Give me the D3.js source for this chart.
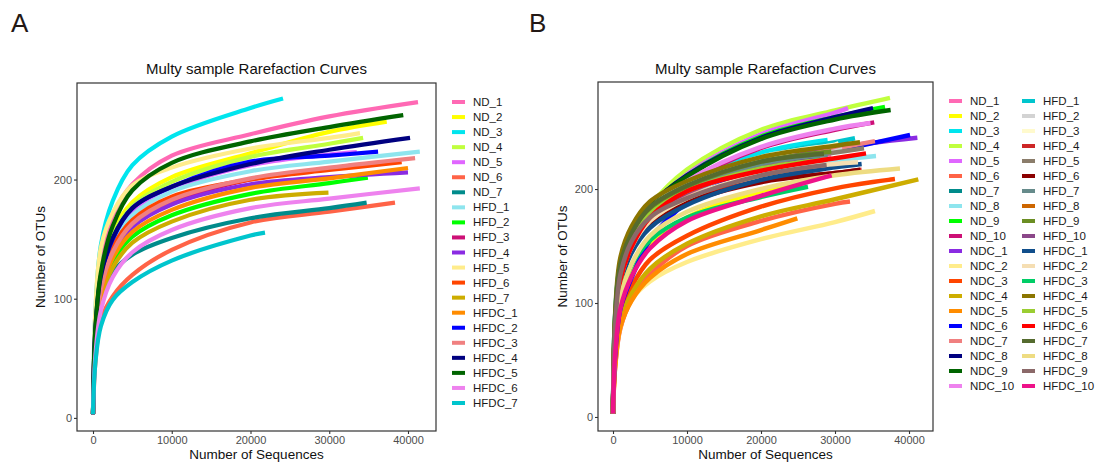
<!DOCTYPE html>
<html>
<head>
<meta charset="utf-8">
<script src="https://cdn.jsdelivr.net/npm/d3@7"></script>
<style>
  body { margin: 0; background: #fff; }
  svg text { font-family: "Liberation Sans", Arial, sans-serif; }
</style>
</head>
<body>
<svg id="chart" width="1096" height="463"></svg>
<script>

const depthGrid = [0, 300, 1000, 2500, 5000, 10000, 20000, 30000];

// ggplot-style palette, in legend order
const palette = [
  "#FF69B4", "#FFFF00", "#00E5EE", "#C0FF3E", "#E066FF", "#FF6347", "#008B8B",
  "#8EE5EE", "#00FF00", "#CD1076", "#8A2BE2", "#FFEC8B", "#FF4500", "#CDAD00",
  "#FF8C00", "#0000FF", "#F08080", "#000080", "#006400", "#EE82EE", "#00C5CD",
  "#D3D3D3", "#FFFACD", "#CD2626", "#8B7D6B", "#8B0000", "#668B8B", "#CD6600",
  "#6B8E23", "#8B4789", "#104E8B", "#F5DEB3", "#00CD66", "#8B7500", "#9ACD32",
  "#FF0000", "#556B2F", "#EEDC82", "#8B6969", "#EE1289"
];

// ---- panel A ----
const samplesA = ["ND_1", "ND_2", "ND_3", "ND_4", "ND_5", "ND_6", "ND_7",
  "HFD_1", "HFD_2", "HFD_3", "HFD_4", "HFD_5", "HFD_6", "HFD_7",
  "HFDC_1", "HFDC_2", "HFDC_3", "HFDC_4", "HFDC_5", "HFDC_6", "HFDC_7"];

const endDepthA = [41270, 37300, 24130, 34300, 33500, 38350, 34750,
  41500, 34900, 33000, 40000, 33900, 39200, 29900,
  40000, 36200, 40900, 40260, 39400, 41500, 21840];

// OTUs at each grid depth below the end depth, last value = OTUs at end depth
const otusA = [
  [3, 80, 133, 170, 196, 220, 238, 253, 265],
  [3, 72, 120, 156, 181, 202, 222, 240, 248.6],
  [3, 88, 145, 182, 212, 236, 260, 268],
  [3, 72, 118, 153, 178, 198, 219, 230, 235],
  [3, 70, 115, 148, 172, 192, 212, 221, 223],
  [3, 46, 82, 102, 120, 141, 164, 173, 180.6],
  [3, 55, 95, 122, 137, 151, 167.5, 176, 180.6],
  [3, 70, 114, 146, 170, 190, 207, 215, 223.4],
  [3, 62, 102, 131, 152, 170, 188, 197, 201.6],
  [3, 66, 108, 138, 162, 181, 200, 209, 212],
  [3, 66, 107, 137, 160, 179, 196, 202, 206],
  [3, 90, 143, 172, 195, 210, 226, 235, 239],
  [3, 68, 111, 143, 166, 185.6, 200, 208, 214.5],
  [3, 60, 99, 126, 147, 164.7, 183, 189],
  [3, 62, 104, 134, 156, 174.5, 193, 201, 209.7],
  [3, 72, 117, 150, 176, 194, 215, 220, 223.4],
  [3, 66, 108, 139, 163, 183, 201, 210, 218],
  [3, 74, 119, 151, 176, 194, 213, 225, 235],
  [3, 75, 122, 161, 191, 214, 232, 244, 254],
  [3, 52, 90, 118, 139, 157.7, 176, 184, 192.6],
  [3, 46, 77, 99, 114, 132, 153, 155.5]
];

// ---- panel B ----
const samplesB = ["ND_1", "ND_2", "ND_3", "ND_4", "ND_5", "ND_6", "ND_7", "ND_8", "ND_9", "ND_10",
  "NDC_1", "NDC_2", "NDC_3", "NDC_4", "NDC_5", "NDC_6", "NDC_7", "NDC_8", "NDC_9", "NDC_10",
  "HFD_1", "HFD_2", "HFD_3", "HFD_4", "HFD_5", "HFD_6", "HFD_7", "HFD_8", "HFD_9", "HFD_10",
  "HFDC_1", "HFDC_2", "HFDC_3", "HFDC_4", "HFDC_5", "HFDC_6", "HFDC_7", "HFDC_8", "HFDC_9", "HFDC_10"];

const endDepthB = [29500, 26000, 29000, 37430, 31760, 32030, 28000, 35540, 36760, 35300,
  41130, 35400, 38100, 41260, 24910, 40140, 35400, 35140, 37520, 34800,
  32700, 31000, 30500, 33600, 33920, 33400, 29000, 28000, 29500, 27000,
  33600, 33110, 26350, 33380, 29000, 34190, 28500, 38780, 28870, 29550];

const otusB = [
  [3, 70, 118, 153, 179, 200, 220, 229],
  [3, 62, 100, 125, 150, 175, 198, 207],
  [3, 90, 135, 160, 185, 208, 232, 243],
  [3, 85, 130, 158, 185, 217, 252, 269, 280],
  [3, 80, 125, 153, 182, 213, 248, 267, 271],
  [3, 44, 78, 103, 125, 150, 172, 187, 189],
  [3, 72, 120, 153, 179, 200, 218, 226],
  [3, 70, 118, 150, 175, 195, 214, 225, 229],
  [3, 80, 125, 156, 184, 212, 246, 263, 272],
  [3, 75, 122, 153, 179, 205, 236, 252, 258.5],
  [3, 72, 118, 150, 176, 198, 222, 236, 245],
  [3, 48, 80, 103, 119, 136, 156, 171, 180.7],
  [3, 50, 88, 114, 138, 159, 184.5, 200.6, 208.8],
  [3, 48, 84, 108, 130, 152, 176, 191, 208.5],
  [3, 45, 79, 102, 122, 143, 164, 174.3],
  [3, 55, 95, 122, 155, 188, 218, 233, 247.4],
  [3, 72, 120, 150, 174, 196, 220, 235, 242],
  [3, 80, 126, 158, 185, 212, 245, 263, 271],
  [3, 80, 126, 158, 185, 211, 244, 261, 269.3],
  [3, 78, 122, 154, 181, 207, 237, 253, 258],
  [3, 90, 135, 161, 183, 204, 228, 241, 244.5],
  [3, 82, 128, 157, 180, 200, 222, 233, 235],
  [3, 85, 130, 159, 183, 205, 228, 239, 240],
  [3, 78, 122, 149, 171, 190, 207, 214, 217],
  [3, 82, 128, 157, 180, 200, 222, 232, 235.7],
  [3, 75, 120, 147, 169, 188, 206, 214, 217],
  [3, 85, 130, 157, 180, 200, 222, 230],
  [3, 78, 122, 149, 172, 192, 212, 220],
  [3, 85, 130, 159, 182, 202, 224, 233],
  [3, 80, 125, 154, 177, 197, 218, 225],
  [3, 70, 115, 144, 166, 186, 208, 219, 222],
  [3, 75, 120, 149, 172, 192, 213, 222, 223.4],
  [3, 65, 106, 133, 155, 175, 193, 202],
  [3, 92, 140, 167, 189, 207, 228, 238, 241],
  [3, 80, 125, 154, 178, 198, 218, 226],
  [3, 75, 120, 149, 175, 198, 216, 227, 231.3],
  [3, 88, 134, 161, 184, 203, 224, 231],
  [3, 62, 104, 134, 159, 180, 200, 212, 218],
  [3, 80, 125, 154, 175, 192, 212, 221],
  [3, 55, 95, 123, 148, 172, 194, 212]
];

const xTicks = [0, 10000, 20000, 30000, 40000];
const yTicks = [0, 100, 200];

const svg = d3.select("#chart");

function build_series(samples, ends, otus) {
  return samples.map(function(name, i) {
    let depths = depthGrid.filter((d) => d < ends[i]);
    let pts = depths.map((d, j) => [d, otus[i][j]]);
    pts.push([ends[i], otus[i][otus[i].length - 1]]);
    return { name: name, color: palette[i], points: pts };
  });
}

function draw_panel(cfg) {
  let series = build_series(cfg.samples, cfg.ends, cfg.otus);

  let x = d3.scaleLinear().domain(cfg.xDomain).range([cfg.left, cfg.right]);
  let y = d3.scaleLinear().domain(cfg.yDomain).range([cfg.bottom, cfg.top]);

  let g = svg.append("g");

  // panel label
  svg.append("text")
    .attr("x", cfg.labelX).attr("y", 32)
    .attr("font-size", 26)
    .attr("fill", "#231815")
    .text(cfg.label);

  // title
  g.append("text")
    .attr("x", (cfg.left + cfg.right) / 2).attr("y", 74)
    .attr("text-anchor", "middle")
    .attr("font-size", 15)
    .attr("fill", "#111")
    .text("Multy sample Rarefaction Curves");

  let line = d3.line()
    .x((d) => x(d[0]))
    .y((d) => y(d[1]))
    .curve(d3.curveCatmullRom.alpha(0.5));

  g.append("g")
    .selectAll("path")
    .data(series)
    .enter().append("path")
      .attr("d", (d) => line(d.points))
      .attr("fill", "none")
      .attr("stroke", (d) => d.color)
      .attr("stroke-width", cfg.lineWidth);

  // border
  g.append("rect")
    .attr("x", cfg.left).attr("y", cfg.top)
    .attr("width", cfg.right - cfg.left)
    .attr("height", cfg.bottom - cfg.top)
    .attr("fill", "none")
    .attr("stroke", "#333")
    .attr("stroke-width", 1.2);

  let xAxis = g.append("g")
    .attr("transform", "translate(0," + cfg.bottom + ")")
    .call(d3.axisBottom(x).tickValues(xTicks).tickFormat(d3.format("d")).tickSize(3).tickPadding(2));
  let yAxis = g.append("g")
    .attr("transform", "translate(" + cfg.left + ",0)")
    .call(d3.axisLeft(y).tickValues(yTicks).tickSize(3).tickPadding(2));

  [xAxis, yAxis].forEach(function(a) {
    a.select(".domain").remove();
    a.selectAll(".tick line").attr("stroke", "#333").attr("stroke-width", 1.1);
    a.selectAll(".tick text")
      .attr("fill", "#4D4D4D")
      .attr("font-size", 11)
      .attr("font-family", "Liberation Sans, Arial, sans-serif");
  });

  // axis titles
  g.append("text")
    .attr("x", (cfg.left + cfg.right) / 2).attr("y", 459)
    .attr("text-anchor", "middle")
    .attr("font-size", 13.5)
    .attr("fill", "#111")
    .text("Number of Sequences");
  g.append("text")
    .attr("transform", "translate(" + cfg.yTitleX + "," + ((cfg.top + cfg.bottom) / 2) + ") rotate(-90)")
    .attr("text-anchor", "middle")
    .attr("font-size", 13.5)
    .attr("fill", "#111")
    .text("Number of OTUs");

  // legend
  let per_col = cfg.legendRows;
  let legend = g.append("g")
    .selectAll("g")
    .data(series)
    .enter().append("g")
      .attr("transform", (d, i) => "translate(" +
        (cfg.legendX + Math.floor(i / per_col) * cfg.legendColW) + "," +
        (cfg.legendY + (i % per_col) * cfg.legendStep) + ")");

  legend.append("line")
    .attr("x1", 0).attr("x2", 13)
    .attr("y1", 0).attr("y2", 0)
    .attr("stroke", (d) => d.color)
    .attr("stroke-width", 4);
  legend.append("text")
    .attr("x", 21).attr("y", 4)
    .attr("font-size", 11.5)
    .attr("fill", "#1a1a1a")
    .text((d) => d.name);
}

draw_panel({
  label: "A", labelX: 11,
  samples: samplesA, ends: endDepthA, otus: otusA,
  left: 77, right: 436, top: 83, bottom: 431,
  xDomain: [-2032, 43556], yDomain: [-11, 281],
  yTitleX: 45, lineWidth: 4.2,
  legendX: 452, legendY: 102, legendStep: 15.05, legendRows: 21, legendColW: 0
});

draw_panel({
  label: "B", labelX: 529,
  samples: samplesB, ends: endDepthB, otus: otusB,
  left: 598, right: 933, top: 82, bottom: 431,
  xDomain: [-2027, 43243], yDomain: [-12.3, 293.9],
  yTitleX: 567, lineWidth: 4.5,
  legendX: 949, legendY: 101, legendStep: 15.0, legendRows: 20, legendColW: 73
});

</script>
</body>
</html>
